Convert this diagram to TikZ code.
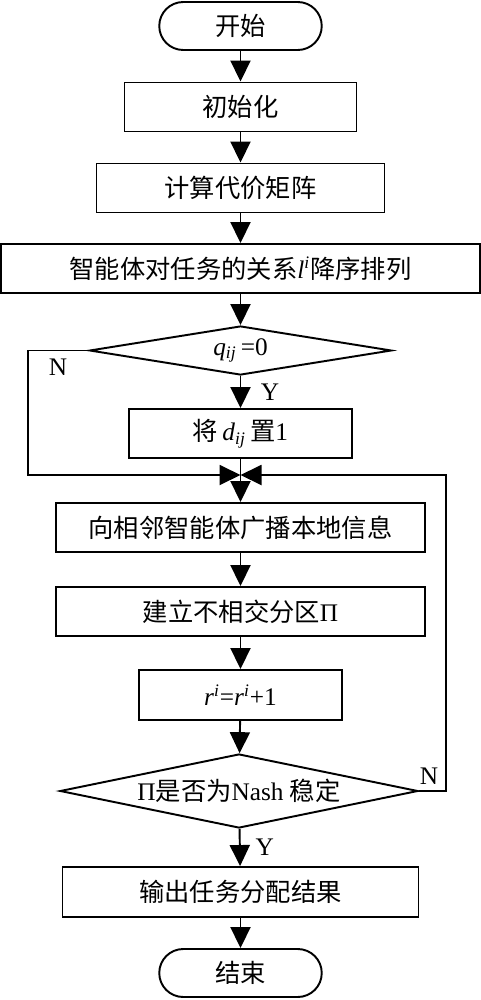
\documentclass[tikz,border=0pt]{standalone}
\usepackage{fontspec}
\usepackage{tikz}
\usetikzlibrary{positioning,arrows.meta,shapes.geometric}
\setmainfont{Liberation Serif}
\newfontfamily\cjk{Noto Sans CJK SC}
\newcommand{\zh}[1]{{\cjk #1}}

\begin{document}
\begin{tikzpicture}[line width=1.1pt,
    every node/.style={font=\fontsize{14.4}{17}\selectfont},
    box/.style={draw,rectangle,minimum height=0.98cm,inner sep=0pt},
    term/.style={draw,rectangle,rounded corners=0.48cm,minimum width=3.25cm,minimum height=0.96cm},
    cond/.style={draw,diamond,inner sep=0pt},
    arr/.style={-{Triangle[length=4.2mm,width=4mm]}}]
      \useasboundingbox (0,0) rectangle (9.62,-20);
      % start and set-up
      \node[term] (start) at (4.81,-0.52) {\zh{开始}};
      \node[box,minimum width=4.64cm] (init) at (4.81,-2.14) {\zh{初始化}};
      \node[box,minimum width=5.76cm] (cost) at (4.81,-3.76) {\zh{计算代价矩阵}};
      \node[box,minimum width=9.58cm] (sort) at (4.81,-5.37)
        {\zh{智能体对任务的关系}\textit{l}\textsuperscript{\textit{i}}\zh{降序排列}};
      % first test
      \node[cond,aspect=6.2,minimum width=6.04cm,minimum height=0.98cm] (dq) at (4.81,-7.01)
        {\textit{q}\textsubscript{\textit{ij}}\,=0};
      \node[box,minimum width=4.46cm] (setd) at (4.81,-8.67)
        {\zh{将}\,\textit{d}\textsubscript{\textit{ij}}\,\zh{置}1};
      \coordinate (jn) at (4.81,-9.5);
      % loop body
      \node[box,minimum width=7.38cm] (bcast) at (4.81,-10.55) {\zh{向相邻智能体广播本地信息}};
      \node[box,minimum width=7.38cm] (part) at (4.81,-12.23) {\zh{建立不相交分区}Π};
      \node[box,minimum width=4.06cm,minimum height=1cm] (incr) at (4.81,-13.9)
        {\textit{r}\textsuperscript{\textit{i}}=\textit{r}\textsuperscript{\textit{i}}+1};
      \node[cond,aspect=4.8,minimum width=7.16cm,minimum height=1.48cm] (dnash) at (4.78,-15.82)
        {Π\zh{是否为}Nash \zh{稳定}};
      % output and end
      \node[box,minimum width=7.12cm,minimum height=1cm] (out) at (4.81,-17.84) {\zh{输出任务分配结果}};
      \node[term] (end) at (4.81,-19.46) {\zh{结束}};
      % arrows
      \draw[arr] (start) -- (init);
      \draw[arr] (init) -- (cost);
      \draw[arr] (cost) -- (sort);
      \draw[arr] (sort) -- (dq);
      \draw[arr] (dq) -- node[right=0.27cm]{Y} (setd);
      \draw (setd.south) -- (jn);
      \draw[arr] (dq.west) -- node[below=1pt]{N} ++(-1.22,0) |- (jn);
      \draw[arr] (dnash.east) -- node[above,xshift=-2pt]{N} ++(0.54,0) |- (jn);
      \draw[arr] (jn) -- (bcast.north);
      \draw[arr] (bcast) -- (part);
      \draw[arr] (part) -- (incr);
      \draw[arr] (incr) -- (dnash);
      \draw[arr] (dnash) -- node[right=0.18cm]{Y} (out);
      \draw[arr] (out) -- (end);
    \end{tikzpicture}
\end{document}
